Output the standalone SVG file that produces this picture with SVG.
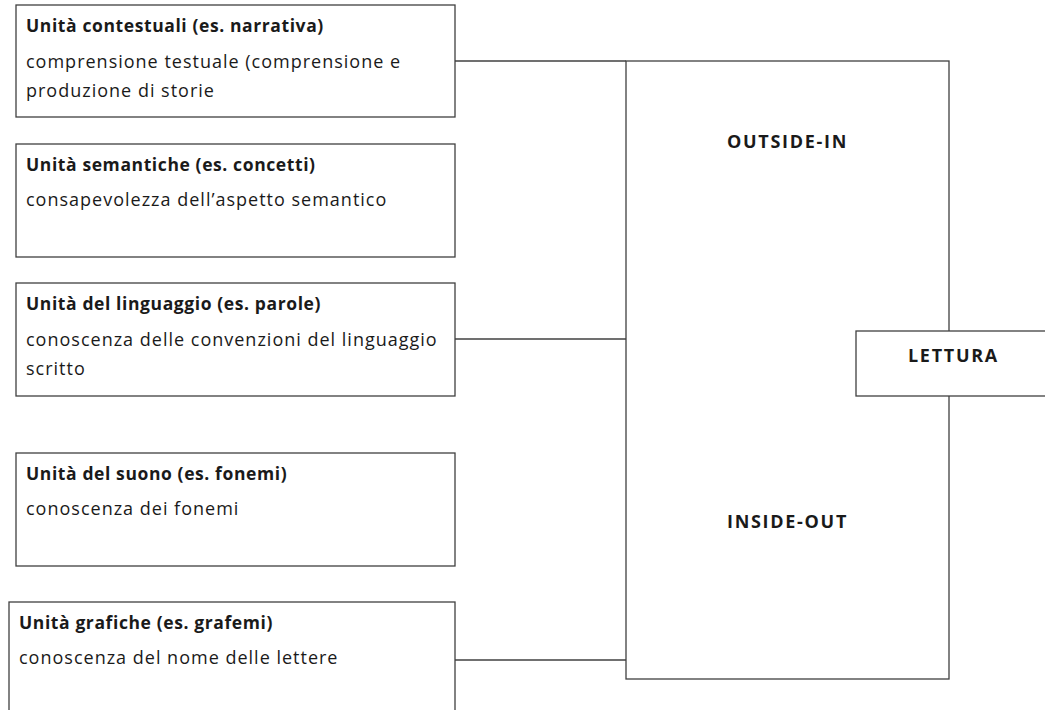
<svg xmlns="http://www.w3.org/2000/svg" width="1045" height="710" viewBox="0 0 1045 710">
<style>
.box{fill:#fff;stroke:#404040;stroke-width:1.3}
.ln{fill:none;stroke:#404040;stroke-width:1.3}
text{font-family:"Open Sans","Noto Sans","Liberation Sans",sans-serif;font-size:18px;letter-spacing:1px;fill:#1a1a1a}
.b{font-weight:bold;font-size:17.5px;letter-spacing:0.6px}
.cap{font-weight:bold;font-size:18px;letter-spacing:1.7px}
</style>
<rect width="1045" height="710" fill="#fff"/>
<g id="outside-inside">
<rect class="box" x="626" y="61" width="323" height="618"/>
<text class="cap" x="727" y="148">OUTSIDE-IN</text>
<text class="cap" x="727" y="528">INSIDE-OUT</text>
</g>
<g id="connectors">
<line class="ln" x1="455" y1="61" x2="626" y2="61"/>
<line class="ln" x1="455" y1="339" x2="626" y2="339"/>
<line class="ln" x1="455" y1="660" x2="626" y2="660"/>
</g>
<g id="lettura">
<rect class="box" x="856" y="331" width="200" height="65"/>
<text class="cap" x="908" y="362">LETTURA</text>
</g>
<g id="contestuali">
<rect class="box" x="16" y="5" width="439" height="112"/>
<text class="b" x="26" y="32">Unità contestuali (es. narrativa)</text>
<text x="26" y="68">comprensione testuale (comprensione e</text>
<text x="26" y="97">produzione di storie</text>
</g>
<g id="semantiche">
<rect class="box" x="16" y="144" width="439" height="113"/>
<text class="b" x="26" y="171">Unità semantiche (es. concetti)</text>
<text x="26" y="206">consapevolezza dell’aspetto semantico</text>
</g>
<g id="linguaggio">
<rect class="box" x="16" y="283" width="439" height="113"/>
<text class="b" x="26" y="310">Unità del linguaggio (es. parole)</text>
<text x="26" y="346">conoscenza delle convenzioni del linguaggio</text>
<text x="26" y="375">scritto</text>
</g>
<g id="suono">
<rect class="box" x="16" y="453" width="439" height="113"/>
<text class="b" x="26" y="480">Unità del suono (es. fonemi)</text>
<text x="26" y="515">conoscenza dei fonemi</text>
</g>
<g id="grafiche">
<rect class="box" x="9" y="602" width="446" height="120"/>
<text class="b" x="19" y="629">Unità grafiche (es. grafemi)</text>
<text x="19" y="664">conoscenza del nome delle lettere</text>
</g>
</svg>
